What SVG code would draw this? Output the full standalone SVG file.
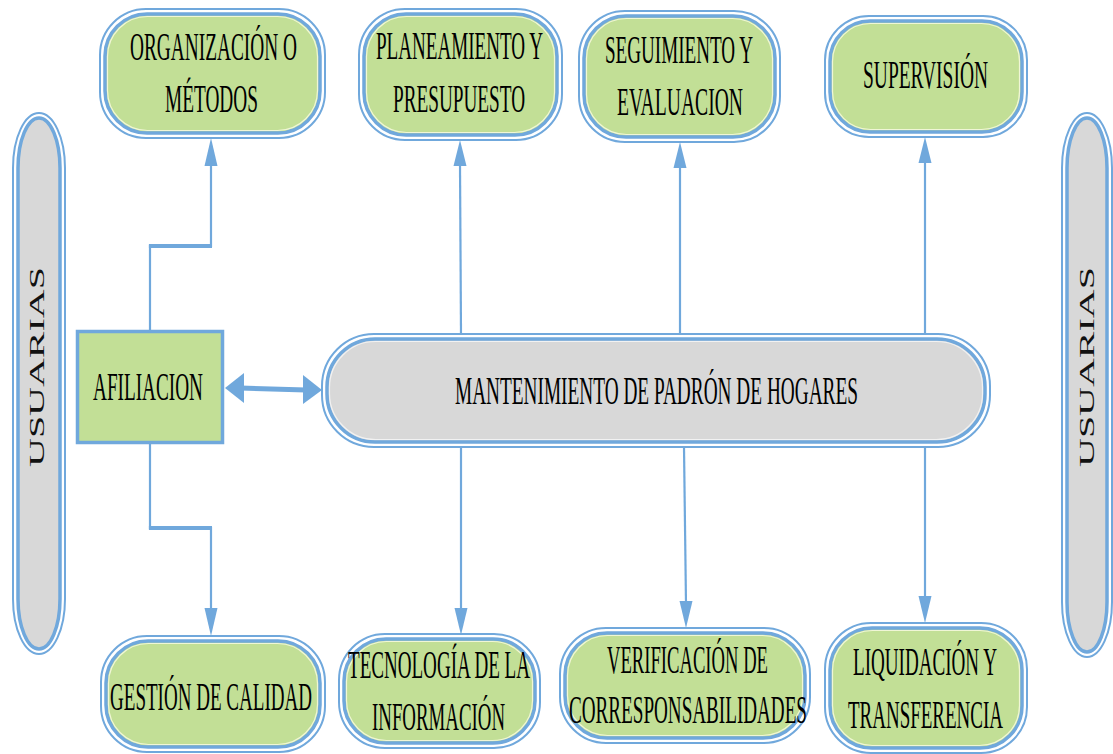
<svg xmlns="http://www.w3.org/2000/svg" width="1113" height="754" viewBox="0 0 1113 754">
<style>
.o{fill:#fff;stroke:#70a8dc;stroke-width:2}
.ig{fill:#c2df96;stroke:#70a8dc;stroke-width:3.5}
.ie{fill:none;stroke:#f0f6d6;stroke-width:1.2}
.gg{fill:#d8d8d8;stroke:#70a8dc;stroke-width:3.5}
.ge{fill:none;stroke:#f2f2f2;stroke-width:1.2}
.t{font-family:"Liberation Serif","Times New Roman",serif;font-size:41px;fill:#000}
.u{font-family:"Liberation Serif","Times New Roman",serif;font-size:20px;fill:#111}
.c{fill:none;stroke:#70a8dc;stroke-width:2.2}
.a{fill:#70a8dc}
</style>
<rect width="1113" height="754" fill="#fff"/>

<g id="usuarias-left">
<rect class="o" x="13" y="113" width="52" height="541" rx="26" ry="55"/>
<rect class="gg" x="18" y="118" width="42" height="531" rx="21" ry="50"/>
<text class="u" transform="translate(44,467) rotate(-90)" textLength="200" lengthAdjust="spacingAndGlyphs">USUARIAS</text>
</g>
<g id="usuarias-right">
<rect class="o" x="1062" y="113" width="50" height="544" rx="25" ry="55"/>
<rect class="gg" x="1067" y="118" width="40" height="534" rx="20" ry="50"/>
<text class="u" transform="translate(1094,467) rotate(-90)" textLength="200" lengthAdjust="spacingAndGlyphs">USUARIAS</text>
</g>

<g id="organizacion">
<rect class="o" x="100" y="9" width="225" height="129" rx="46"/>
<rect class="ig" x="105" y="14" width="215" height="119" rx="42"/>
<rect class="ie" x="107.5" y="16.5" width="210" height="114" rx="40"/>
<text class="t" x="130" y="60" textLength="167" lengthAdjust="spacingAndGlyphs">ORGANIZACIÓN O</text>
<text class="t" x="165" y="112" textLength="93" lengthAdjust="spacingAndGlyphs">MÉTODOS</text>
</g>
<g id="planeamiento">
<rect class="o" x="359" y="9" width="203" height="131" rx="46"/>
<rect class="ig" x="364" y="14" width="193" height="121" rx="42"/>
<rect class="ie" x="366.5" y="16.5" width="188" height="116" rx="40"/>
<text class="t" x="376" y="59" textLength="167" lengthAdjust="spacingAndGlyphs">PLANEAMIENTO Y</text>
<text class="t" x="393" y="112" textLength="132" lengthAdjust="spacingAndGlyphs">PRESUPUESTO</text>
</g>
<g id="seguimiento">
<rect class="o" x="579" y="11" width="201" height="131" rx="46"/>
<rect class="ig" x="584" y="16" width="191" height="121" rx="42"/>
<rect class="ie" x="586.5" y="18.5" width="186" height="116" rx="40"/>
<text class="t" x="605" y="63" textLength="148" lengthAdjust="spacingAndGlyphs">SEGUIMIENTO Y</text>
<text class="t" x="617" y="115" textLength="126" lengthAdjust="spacingAndGlyphs">EVALUACION</text>
</g>
<g id="supervision">
<rect class="o" x="825" y="16" width="202" height="121" rx="44"/>
<rect class="ig" x="830" y="21" width="192" height="111" rx="40"/>
<rect class="ie" x="832.5" y="23.5" width="187" height="106" rx="38"/>
<text class="t" x="863" y="88" textLength="125" lengthAdjust="spacingAndGlyphs">SUPERVISIÓN</text>
</g>

<g id="afiliacion">
<rect x="77.5" y="331.5" width="145" height="111" fill="#c2df96" stroke="#70a8dc" stroke-width="3.5"/>
<text class="t" x="93" y="400" textLength="110" lengthAdjust="spacingAndGlyphs">AFILIACION</text>
</g>

<g id="mantenimiento">
<rect class="o" x="322" y="334" width="668" height="113" rx="52"/>
<rect class="gg" x="327" y="339" width="658" height="103" rx="48"/>
<rect class="ge" x="329.5" y="341.5" width="653" height="98" rx="46"/>
<text class="t" x="455" y="404" textLength="403" lengthAdjust="spacingAndGlyphs">MANTENIMIENTO DE PADRÓN DE HOGARES</text>
</g>

<g id="gestion">
<rect class="o" x="101" y="636" width="224" height="116" rx="46"/>
<rect class="ig" x="106" y="641" width="214" height="106" rx="42"/>
<rect class="ie" x="108.5" y="643.5" width="209" height="101" rx="40"/>
<text class="t" x="110" y="710" textLength="202" lengthAdjust="spacingAndGlyphs">GESTIÓN DE CALIDAD</text>
</g>
<g id="tecnologia">
<rect class="o" x="339" y="634" width="201" height="114" rx="46"/>
<rect class="ig" x="344" y="639" width="191" height="104" rx="42"/>
<rect class="ie" x="346.5" y="641.5" width="186" height="99" rx="40"/>
<text class="t" x="348" y="678" textLength="182" lengthAdjust="spacingAndGlyphs">TECNOLOGÍA DE LA</text>
<text class="t" x="372" y="730" textLength="133" lengthAdjust="spacingAndGlyphs">INFORMACIÓN</text>
</g>
<g id="verificacion">
<rect class="o" x="560" y="628" width="250" height="115" rx="46"/>
<rect class="ig" x="565" y="633" width="240" height="105" rx="42"/>
<rect class="ie" x="567.5" y="635.5" width="235" height="100" rx="40"/>
<text class="t" x="607" y="673" textLength="161" lengthAdjust="spacingAndGlyphs">VERIFICACIÓN DE</text>
<text class="t" x="569" y="723" textLength="238" lengthAdjust="spacingAndGlyphs">CORRESPONSABILIDADES</text>
</g>
<g id="liquidacion">
<rect class="o" x="825" y="623" width="202" height="130" rx="46"/>
<rect class="ig" x="830" y="628" width="192" height="120" rx="42"/>
<rect class="ie" x="832.5" y="630.5" width="187" height="115" rx="40"/>
<text class="t" x="853" y="675" textLength="144" lengthAdjust="spacingAndGlyphs">LIQUIDACIÓN Y</text>
<text class="t" x="848" y="728" textLength="155" lengthAdjust="spacingAndGlyphs">TRANSFERENCIA</text>
</g>

<g id="connectors">
<polyline class="c" points="150,330 150,246 211,246 211,164"/>
<line x1="148.9" y1="246" x2="212" y2="246" stroke="#70a8dc" stroke-width="4"/>
<polygon class="a" points="211,138 204.5,166 217.5,166"/>
<polyline class="c" points="150,444 150,528 211,528 211,610"/>
<line x1="148.9" y1="528" x2="212" y2="528" stroke="#70a8dc" stroke-width="4"/>
<polygon class="a" points="211,636 204.5,608 217.5,608"/>

<line x1="240" y1="388" x2="306" y2="390" stroke="#70a8dc" stroke-width="5"/>
<polygon class="a" points="225,388 244,373 244,403"/>
<polygon class="a" points="322,390 303,375 303,404"/>

<line class="c" x1="461" y1="334" x2="460" y2="165"/>
<polygon class="a" points="460,140 453.5,166 466.5,166"/>
<line class="c" x1="680" y1="334" x2="680" y2="167"/>
<polygon class="a" points="680,142 673.5,168 686.5,168"/>
<line class="c" x1="925" y1="334" x2="925" y2="162"/>
<polygon class="a" points="925,137 918.5,163 931.5,163"/>

<line class="c" x1="461" y1="447" x2="461" y2="610"/>
<polygon class="a" points="461,635 454.5,608 467.5,608"/>
<line class="c" x1="684" y1="447" x2="686" y2="604"/>
<polygon class="a" points="686,628 679.5,601 692.5,601"/>
<line class="c" x1="925" y1="447" x2="925" y2="598"/>
<polygon class="a" points="925,623 918.5,596 931.5,596"/>
</g>
</svg>
